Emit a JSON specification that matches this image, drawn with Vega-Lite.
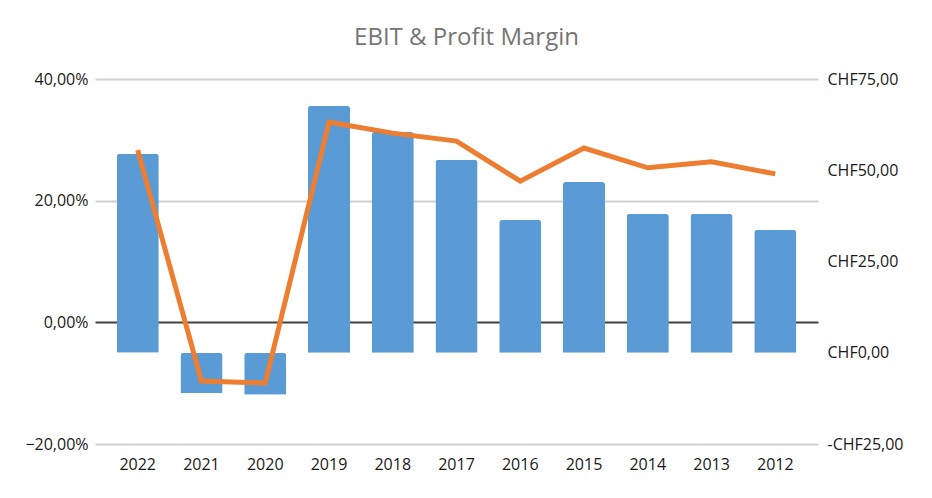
{
  "$schema": "https://vega.github.io/schema/vega-lite/v6.json",
  "width": 723,
  "height": 365,
  "autosize": "none",
  "padding": {"left": 95, "top": 79, "right": 114, "bottom": 54},
  "background": "#ffffff",
  "title": {
    "text": "EBIT & Profit Margin",
    "font": "Open Sans",
    "fontSize": 24,
    "fontWeight": "normal",
    "color": "#757575",
    "anchor": "middle",
    "frame": "group",
    "dx": 10,
    "offset": 21
  },
  "config": {
    "view": {"stroke": null},
    "axis": {
      "labelFont": "Open Sans",
      "labelFontSize": 16,
      "labelColor": "#1a1a1a",
      "ticks": false,
      "domain": false,
      "title": null
    }
  },
  "data": {
    "values": [
      {"year": "2022", "ebit": 54.5, "margin": 28.3},
      {"year": "2021", "ebit": -11.0, "margin": -9.65},
      {"year": "2020", "ebit": -11.5, "margin": -9.98},
      {"year": "2019", "ebit": 67.7, "margin": 32.9},
      {"year": "2018", "ebit": 60.5, "margin": 31.1},
      {"year": "2017", "ebit": 52.9, "margin": 29.8},
      {"year": "2016", "ebit": 36.4, "margin": 23.2},
      {"year": "2015", "ebit": 46.8, "margin": 28.65},
      {"year": "2014", "ebit": 38.1, "margin": 25.4},
      {"year": "2013", "ebit": 38.1, "margin": 26.4},
      {"year": "2012", "ebit": 33.7, "margin": 24.4}
    ]
  },
  "encoding": {
    "x": {
      "field": "year",
      "type": "nominal",
      "sort": null,
      "scale": {"paddingInner": 0.34, "paddingOuter": 0.34},
      "axis": {"labelAngle": 0, "labelPadding": 12, "grid": false}
    }
  },
  "layer": [
    {
      "mark": {"type": "bar", "color": "#5B9BD5", "cornerRadiusEnd": 3},
      "encoding": {
        "y": {
          "field": "ebit",
          "type": "quantitative",
          "scale": {"domain": [-25, 75], "nice": false, "zero": false},
          "axis": {
            "orient": "right",
            "grid": false,
            "values": [-25, 0, 25, 50, 75],
            "labelPadding": 9,
            "labelExpr": "(datum.value < 0 ? '-CHF' : 'CHF') + replace(format(abs(datum.value), '.2f'), '.', ',')"
          }
        }
      }
    },
    {
      "mark": {"type": "line", "color": "#ED7D31", "strokeWidth": 5, "strokeJoin": "miter"},
      "encoding": {
        "y": {
          "field": "margin",
          "type": "quantitative",
          "scale": {"domain": [-20, 40], "nice": false, "zero": false},
          "axis": {
            "orient": "left",
            "grid": true,
            "values": [-20, 0, 20, 40],
            "gridColor": {"condition": {"test": "datum.value === 0", "value": "#404040"}, "value": "#d0d0d0"},
            "gridWidth": 2,
            "labelPadding": 7,
            "labelExpr": "replace(format(datum.value, '.2f'), '.', ',') + '%'"
          }
        }
      }
    }
  ],
  "resolve": {"scale": {"y": "independent"}}
}
